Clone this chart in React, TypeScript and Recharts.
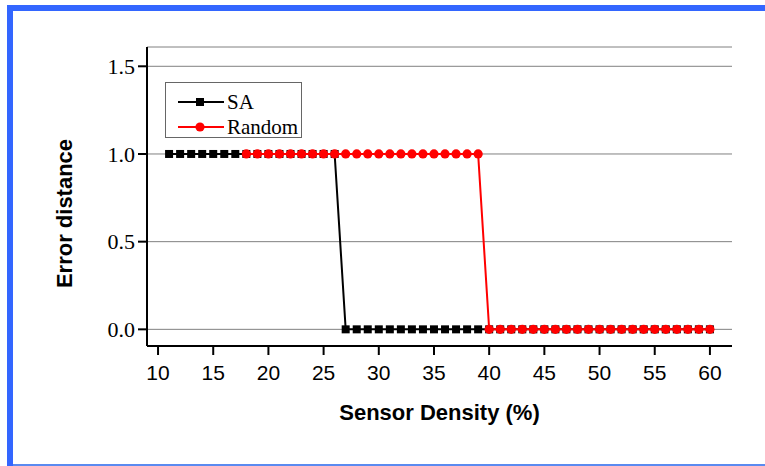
import React from 'react';
import { LineChart, Line, XAxis, YAxis, CartesianGrid } from 'recharts';

const density = [11, 12, 13, 14, 15, 16, 17, 18, 19, 20, 21, 22, 23, 24, 25, 26, 27, 28, 29, 30, 31, 32, 33, 34, 35, 36, 37, 38, 39, 40, 41, 42, 43, 44, 45, 46, 47, 48, 49, 50, 51, 52, 53, 54, 55, 56, 57, 58, 59, 60];
const saError = [1, 1, 1, 1, 1, 1, 1, 1, 1, 1, 1, 1, 1, 1, 1, 1, 0, 0, 0, 0, 0, 0, 0, 0, 0, 0, 0, 0, 0, 0, 0, 0, 0, 0, 0, 0, 0, 0, 0, 0, 0, 0, 0, 0, 0, 0, 0, 0, 0, 0];
const randomError = [null, null, null, null, null, null, null, 1, 1, 1, 1, 1, 1, 1, 1, 1, 1, 1, 1, 1, 1, 1, 1, 1, 1, 1, 1, 1, 1, 0, 0, 0, 0, 0, 0, 0, 0, 0, 0, 0, 0, 0, 0, 0, 0, 0, 0, 0, 0, 0];
const xTicks = [10, 15, 20, 25, 30, 35, 40, 45, 50, 55, 60];
const yTicks = [0, 0.5, 1.0, 1.5];

const series = [
  { key: 'sa', name: 'SA', color: '#000000', marker: 'square' },
  { key: 'random', name: 'Random', color: '#ff0000', marker: 'circle' },
];

const data = density.map((d, i) => ({ density: d, sa: saError[i], random: randomError[i] }));

const SANS = '"Liberation Sans", Arial, sans-serif';
const SERIF = '"Liberation Serif", "Times New Roman", serif';
const BLUE = '#3366ff';

const renderMarker = (marker: string, color: string) => (props: any) => {
  const { cx, cy, index } = props;
  if (cx == null || cy == null) return <g key={`m-${marker}-${index}`} />;
  if (marker === 'square') {
    return <rect key={`m-${marker}-${index}`} x={cx - 4} y={cy - 4} width={8} height={8} fill={color} stroke="none" />;
  }
  return <circle key={`m-${marker}-${index}`} cx={cx} cy={cy} r={4.6} fill={color} stroke="none" />;
};

const LegendBox = () => (
  <div
    style={{
      position: 'absolute',
      left: 165,
      top: 82,
      width: 135,
      height: 54,
      border: '1px solid #666',
      background: '#fff',
      boxSizing: 'content-box',
    }}
  >
    {series.map((s, i) => (
      <div key={s.key} style={{ position: 'absolute', left: 11, top: 7 + i * 25, height: 24, display: 'flex', alignItems: 'center' }}>
        <svg width={48} height={12} style={{ display: 'block' }}>
          <line x1={1} y1={6} x2={47} y2={6} stroke={s.color} strokeWidth={2} />
          {s.marker === 'square' ? (
            <rect x={19} y={2} width={8} height={8} fill={s.color} />
          ) : (
            <circle cx={23} cy={6} r={4.6} fill={s.color} />
          )}
        </svg>
        <span style={{ fontFamily: SERIF, fontSize: 21, color: '#000', marginLeft: 2, lineHeight: '24px' }}>{s.name}</span>
      </div>
    ))}
  </div>
);

export default function App() {
  return (
    <div style={{ position: 'absolute', left: 0, top: 0, width: 765, height: 466, background: '#fff', overflow: 'hidden' }}>
      <LineChart
        width={765}
        height={466}
        data={data}
        margin={{ top: 47, right: 33, bottom: 30, left: 87 }}
      >
        <CartesianGrid horizontal vertical={false} stroke="#808080" strokeWidth={1} />
        <XAxis
          dataKey="density"
          type="number"
          domain={[9, 62]}
          ticks={xTicks}
          interval={0}
          height={90}
          axisLine={{ stroke: '#000', strokeWidth: 2 }}
          tickLine={{ stroke: '#000', strokeWidth: 2 }}
          tickSize={9}
          tickMargin={10}
          tick={{ fill: '#000', fontFamily: SANS, fontSize: 21 }}
          label={{
            value: 'Sensor Density (%)',
            content: (p: any) => {
              const vb = p.viewBox;
              return (
                <text x={vb.x + vb.width / 2} y={vb.y + 74} textAnchor="middle" fontFamily={SANS} fontSize={22} fontWeight="bold" fill="#000">
                  Sensor Density (%)
                </text>
              );
            },
          }}
        />
        <YAxis
          type="number"
          domain={[-0.095, 1.61]}
          ticks={yTicks}
          interval={0}
          width={60}
          axisLine={{ stroke: '#000', strokeWidth: 2 }}
          tickLine={{ stroke: '#000', strokeWidth: 2 }}
          tickSize={9}
          tickMargin={3}
          tickFormatter={(v: number) => v.toFixed(1)}
          tick={{ fill: '#000', fontFamily: SERIF, fontSize: 22 }}
          label={{
            value: 'Error distance',
            content: (p: any) => {
              const vb = p.viewBox;
              const x = vb.x - 15;
              const y = vb.y + vb.height / 2 + 17;
              return (
                <text x={x} y={y} transform={`rotate(-90, ${x}, ${y})`} textAnchor="middle" fontFamily={SANS} fontSize={22} fontWeight="bold" fill="#000">
                  Error distance
                </text>
              );
            },
          }}
        />
        {series.map((s) => (
          <Line
            key={s.key}
            dataKey={s.key}
            name={s.name}
            type="linear"
            stroke={s.color}
            strokeWidth={2}
            dot={renderMarker(s.marker, s.color)}
            activeDot={false}
            isAnimationActive={false}
            connectNulls={false}
          />
        ))}
      </LineChart>
      <LegendBox />
      <div style={{ position: 'absolute', left: 7, top: 5, width: 758, height: 6, background: BLUE }} />
      <div style={{ position: 'absolute', left: 7, top: 5, width: 6, height: 461, background: BLUE }} />
      <div style={{ position: 'absolute', left: 13, top: 464, width: 752, height: 2, background: '#5a8af0' }} />
    </div>
  );
}
